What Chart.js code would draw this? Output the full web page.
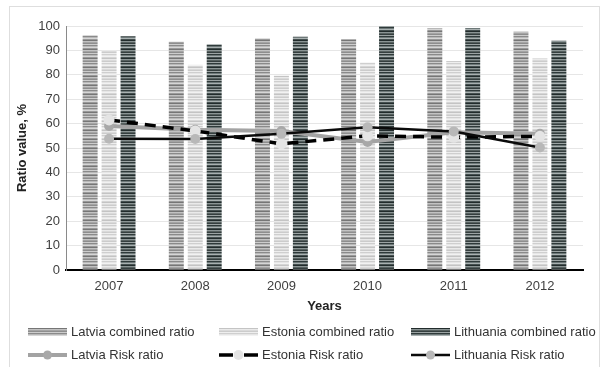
<!DOCTYPE html>
<html>
<head>
<meta charset="utf-8">
<script src="https://cdn.jsdelivr.net/npm/chart.js@4/dist/chart.umd.min.js"></script>
<style>
  html, body { margin: 0; padding: 0; background: #fff; }
  canvas { display: block; }
</style>
</head>
<body>
<canvas id="c" width="604" height="367"></canvas>
<script>
// Years on the x axis
const years = ['2007', '2008', '2009', '2010', '2011', '2012'];

// Combined ratio, %
const latviaCombined    = [96.2, 93.5, 95.0, 94.6, 99.2, 97.6];
const estoniaCombined   = [90.1, 84.1, 79.6, 85.0, 85.7, 86.7];
const lithuaniaCombined = [95.8, 92.5, 95.6, 100.0, 99.2, 94.0];

// Risk ratio, %
const latviaRisk    = [59.0, 57.5, 57.0, 52.5, 56.5, 55.8];
const estoniaRisk   = [61.5, 57.0, 51.7, 55.0, 54.4, 54.8];
const lithuaniaRisk = [53.8, 53.7, 55.8, 58.5, 56.8, 50.2];

const yTicks = [0, 10, 20, 30, 40, 50, 60, 70, 80, 90, 100];

const FONT = '"Liberation Sans", Arial, Helvetica, sans-serif';

// Horizontal-stripe fills for the bars
function stripes(rows) {
  const c = document.createElement('canvas');
  c.width = 4; c.height = rows.length;
  const g = c.getContext('2d');
  rows.forEach((col, i) => { g.fillStyle = col; g.fillRect(0, i, 4, 1); });
  return g.createPattern(c, 'repeat');
}
const latviaFill = stripes(['#8a8a8a', '#b8b8b8', '#d6d6d6', '#9a9a9a', '#767676', '#c2c2c2', '#a4a4a4', '#8e8e8e', '#cdcdcd']);
const estoniaFill = stripes(['#cfcfcf', '#e6e6e6', '#f2f2f2', '#d6d6d6', '#c4c4c4', '#eaeaea', '#dadada', '#cccccc', '#efefef']);
const lithuaniaFill = stripes(['#2f3a3a', '#6d7878', '#a9b1b1', '#455050', '#222c2c', '#8a9494', '#56605f', '#353f3f', '#9ca4a4']);

// Frame around the whole figure
const framePlugin = {
  id: 'frame',
  beforeDraw(chart) {
    const ctx = chart.ctx;
    ctx.save();
    ctx.strokeStyle = '#dedede';
    ctx.lineWidth = 1;
    ctx.strokeRect(9.5, 6.5, 590, 380);
    ctx.restore();
  }
};

// Two-row legend laid out on a three-column grid
const gridLegend = {
  id: 'gridLegend',
  afterDraw(chart) {
    const ctx = chart.ctx;
    const ds = chart.data.datasets;
    const cols = [28, 219, 411];
    const rows = [332, 355];
    const symW = 39;
    ctx.save();
    ctx.font = '13px ' + FONT;
    ctx.fillStyle = '#333';
    ctx.textBaseline = 'middle';
    ds.forEach((d, i) => {
      const x = cols[i % 3];
      const y = rows[Math.floor(i / 3)];
      if (d.type === 'line') {
        ctx.save();
        ctx.strokeStyle = d.borderColor;
        ctx.lineWidth = d.borderWidth;
        ctx.lineCap = 'butt';
        if (d.borderDash && d.borderDash.length) {
          ctx.beginPath();
          ctx.moveTo(x, y); ctx.lineTo(x + 14, y);
          ctx.moveTo(x + symW - 14, y); ctx.lineTo(x + symW, y);
          ctx.stroke();
        } else {
          ctx.beginPath();
          ctx.moveTo(x, y); ctx.lineTo(x + symW, y);
          ctx.stroke();
        }
        ctx.fillStyle = d.pointBackgroundColor;
        ctx.beginPath();
        ctx.arc(x + symW / 2, y, d.pointRadius - 0.5, 0, Math.PI * 2);
        ctx.fill();
        ctx.restore();
      } else {
        ctx.fillStyle = d.backgroundColor;
        ctx.fillRect(x, y - 4, symW, 8);
      }
      ctx.fillStyle = '#333';
      ctx.fillText(d.label, x + symW + 4, y + 0.5);
    });
    ctx.restore();
  }
};

const barCommon = { type: 'bar', order: 10, categoryPercentage: 0.66, barPercentage: 0.79 };

new Chart(document.getElementById('c'), {
  type: 'bar',
  data: {
    labels: years,
    datasets: [
      { ...barCommon, label: 'Latvia combined ratio', data: latviaCombined, backgroundColor: latviaFill },
      { ...barCommon, label: 'Estonia combined ratio', data: estoniaCombined, backgroundColor: estoniaFill },
      { ...barCommon, label: 'Lithuania combined ratio', data: lithuaniaCombined, backgroundColor: lithuaniaFill },
      { type: 'line', order: 3, label: 'Latvia Risk ratio', data: latviaRisk,
        borderColor: '#a3a3a3', borderWidth: 4, pointRadius: 5, pointBackgroundColor: '#a8a8a8',
        pointBorderWidth: 0, tension: 0, fill: false },
      { type: 'line', order: 2, label: 'Estonia Risk ratio', data: estoniaRisk,
        borderColor: '#000000', borderWidth: 3.5, borderDash: [11, 7], pointRadius: 5.5,
        pointBackgroundColor: '#e4e4e4', pointBorderWidth: 0, tension: 0, fill: false },
      { type: 'line', order: 1, label: 'Lithuania Risk ratio', data: lithuaniaRisk,
        borderColor: '#0a0a0a', borderWidth: 2.5, pointRadius: 5, pointBackgroundColor: '#b8b8b8',
        pointBorderWidth: 0, tension: 0, fill: false }
    ]
  },
  options: {
    responsive: false,
    animation: false,
    devicePixelRatio: 1,
    layout: { padding: { top: 26, right: 21, bottom: 0, left: 0 } },
    plugins: { legend: { display: false }, tooltip: { enabled: false } },
    scales: {
      x: {
        grid: { display: false, drawTicks: false },
        border: { color: '#000', width: 2 },
        ticks: { color: '#404040', font: { family: FONT, size: 13 }, padding: 9 },
        title: { display: true, text: 'Years', color: '#222',
                 font: { family: FONT, size: 13, weight: 'bold' }, padding: { top: 0, bottom: 53 } },
        afterFit(s) { s.height = 97; }
      },
      y: {
        min: 0, max: 100,
        afterBuildTicks(s) { s.ticks = yTicks.map(v => ({ value: v })); },
        grid: { color: '#e6e6e6', drawTicks: false },
        border: { color: '#8a8a8a', width: 1 },
        ticks: { color: '#404040', font: { family: FONT, size: 13 }, padding: 6 },
        title: { display: true, text: 'Ratio value, %', color: '#222',
                 font: { family: FONT, size: 13, weight: 'bold' }, padding: { top: 15, bottom: 0 } },
        afterFit(s) { s.width = 66; }
      }
    }
  },
  plugins: [framePlugin, gridLegend]
});
</script>
</body>
</html>
